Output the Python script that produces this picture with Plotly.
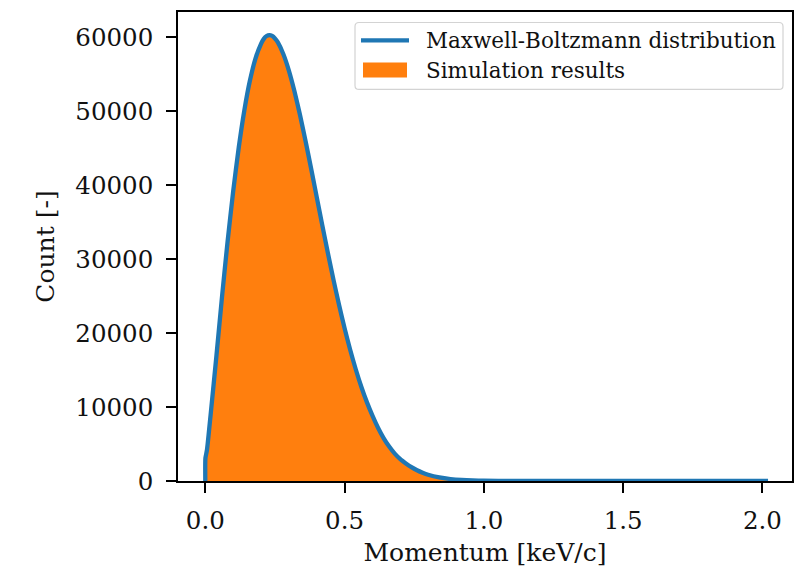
import plotly.graph_objects as go

# Momentum grid [keV/c]
momentum = [0.0, 0.0005, 0.006, 0.02, 0.04, 0.06, 0.08, 0.10, 0.12, 0.14, 0.16, 0.18,
            0.20, 0.21, 0.22, 0.23, 0.24, 0.25, 0.26, 0.28, 0.30, 0.32, 0.34, 0.36, 0.38, 0.40,
            0.42, 0.44, 0.46, 0.48, 0.50, 0.52, 0.54, 0.56, 0.58, 0.60, 0.62,
            0.64, 0.66, 0.68, 0.70, 0.72, 0.74, 0.76, 0.78, 0.80, 0.84, 0.88,
            0.92, 0.96, 1.00, 1.10, 1.20, 1.40, 1.60, 1.80, 2.02]

# Maxwell-Boltzmann curve
mb_counts = [0, 3100, 4200, 9300, 16930, 24920, 32370, 39120, 45050, 50060, 54080, 57090,
             59070, 59750, 60130, 60260, 60140, 59800, 59300, 57710, 55470, 52670, 49450, 45920, 42200, 38370,
             34550, 30810, 27220, 23810, 20640, 17730, 15100, 12740, 10660, 8840, 7200,
             5800, 4650, 3700, 2950, 2380, 1870, 1450, 1120, 850, 485, 267,
             142, 73, 37, 6, 1, 0, 0, 0, 0]

# Simulation histogram counts
sim_momentum = [0.005, 0.006, 0.02, 0.04, 0.06, 0.08, 0.10, 0.12, 0.14, 0.16, 0.18,
                0.20, 0.21, 0.22, 0.23, 0.24, 0.25, 0.26, 0.28, 0.30, 0.32, 0.34, 0.36, 0.38, 0.40,
                0.42, 0.44, 0.46, 0.48, 0.50, 0.52, 0.54, 0.56, 0.58, 0.60, 0.62,
                0.64, 0.66, 0.68, 0.70, 0.72, 0.74, 0.76, 0.78, 0.80, 0.84, 0.88,
                0.92, 0.96, 1.00, 1.10, 1.20]
sim_counts = [0, 4000, 9100, 16800, 24800, 32200, 38900, 44900, 49900, 53900, 56900,
              58900, 59600, 59950, 60050, 59900, 59500, 59000, 57400, 55100, 52300, 49100, 45600, 41900, 38100,
              34300, 30600, 27000, 23600, 20450, 17560, 14950, 12600, 10540, 8740, 7110,
              5730, 4590, 3650, 2910, 2340, 1840, 1420, 1100, 830, 470, 258,
              136, 70, 35, 5, 0]

legend_labels = ["Maxwell-Boltzmann distribution", "Simulation results"]

blue = "#1f77b4"
orange = "#ff7f0e"
font_family = "DejaVu Serif"
text_color = "#111111"

# plot-area pixel geometry (for the hand-drawn legend)
L, R, T, B = 178, 792, 11.5, 481
W_PX, H_PX = 801, 567


def px(x):
    return (x - L) / (R - L)


def py(y):
    return (B - y) / (B - T)


fig = go.Figure()
fig.add_trace(go.Scatter(
    x=sim_momentum, y=sim_counts, mode="lines", fill="tozeroy",
    line=dict(width=0, color=orange, shape="spline", smoothing=0.6), fillcolor=orange,
    name=legend_labels[1], showlegend=False, hoverinfo="skip",
))
fig.add_trace(go.Scatter(
    x=momentum, y=mb_counts, mode="lines",
    line=dict(width=4.3, color=blue, shape="spline", smoothing=0.6),
    name=legend_labels[0], showlegend=False, hoverinfo="skip",
))

axis_common = dict(
    showline=True, linecolor="black", linewidth=1.7, mirror=True,
    ticks="outside", ticklen=10, tickwidth=1.6, tickcolor="black",
    showgrid=False, zeroline=False, automargin=False,
    tickfont=dict(family=font_family, size=24.5, color=text_color),
)

# legend frame with rounded corners
x0, x1, y0, y1 = px(355), px(783), py(89), py(22)
rx, ry = 4 / (R - L), 4 / (B - T)
path = (f"M {x0+rx},{y0} L {x1-rx},{y0} Q {x1},{y0} {x1},{y0+ry} "
        f"L {x1},{y1-ry} Q {x1},{y1} {x1-rx},{y1} L {x0+rx},{y1} "
        f"Q {x0},{y1} {x0},{y1-ry} L {x0},{y0+ry} Q {x0},{y0} {x0+rx},{y0} Z")
shapes = [
    dict(type="path", xref="paper", yref="paper", path=path,
         line=dict(color="#d3d3d3", width=1.2), fillcolor="rgba(255,255,255,0.8)", layer="above"),
    dict(type="line", xref="paper", yref="paper", x0=px(361), x1=px(409), y0=py(40), y1=py(40),
         line=dict(color=blue, width=4.3), layer="above"),
    dict(type="rect", xref="paper", yref="paper", x0=px(363), x1=px(407), y0=py(77), y1=py(62),
         line=dict(width=0), fillcolor=orange, layer="above"),
]
annotations = [
    dict(xref="paper", yref="paper", x=px(424), y=py(40), text=legend_labels[0],
         xanchor="left", yanchor="middle", showarrow=False,
         font=dict(family=font_family, size=21.5, color=text_color)),
    dict(xref="paper", yref="paper", x=px(424), y=py(70), text=legend_labels[1],
         xanchor="left", yanchor="middle", showarrow=False,
         font=dict(family=font_family, size=21.5, color=text_color)),
]

fig.update_layout(
    width=W_PX, height=H_PX,
    margin=dict(l=L, r=W_PX - R, t=T, b=H_PX - B),
    paper_bgcolor="white", plot_bgcolor="white",
    font=dict(family=font_family, color=text_color),
    showlegend=False,
    shapes=shapes, annotations=annotations,
    xaxis=dict(
        range=[-0.098, 2.106], tickvals=[0.0, 0.5, 1.0, 1.5, 2.0],
        ticktext=["0.0", "0.5", "1.0", "1.5", "2.0"],
        title=dict(text="Momentum [keV/c]", font=dict(family=font_family, size=25), standoff=11),
        ticklabelstandoff=7,
        **axis_common,
    ),
    yaxis=dict(
        range=[0, 63380], tickvals=[0, 10000, 20000, 30000, 40000, 50000, 60000],
        ticktext=["0", "10000", "20000", "30000", "40000", "50000", "60000"],
        title=dict(text="Count [-]", font=dict(family=font_family, size=25), standoff=14),
        ticklabelstandoff=8,
        **axis_common,
    ),
)

fig.write_html("out.html", config={"displayModeBar": False},
               post_script="document.body.style.margin='0';")
